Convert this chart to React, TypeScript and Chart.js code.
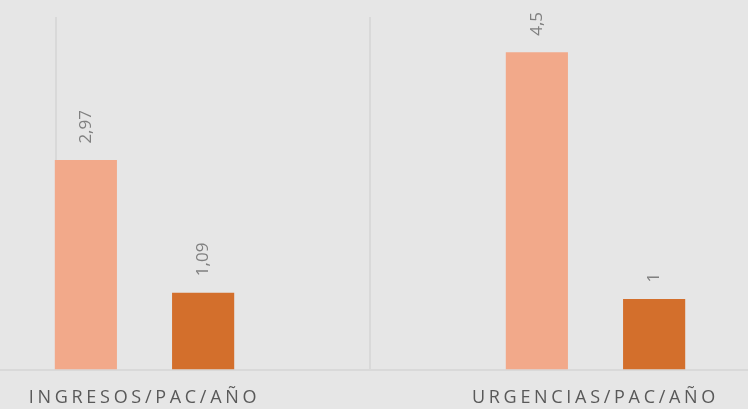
import { useEffect, useRef } from 'react';
import { Chart, registerables } from 'chart.js';

Chart.register(...registerables);

const categories = ['INGRESOS/PAC/AÑO', 'URGENCIAS/PAC/AÑO'];
const seriesA = [2.97, 4.5];
const seriesB = [1.09, 1];
const yMin = 0;
const yMax = 5;
// vertical divider lines, expressed in category-scale units
const dividerValues = [-0.196, 0.5];

const BG = '#e6e6e6';
const LIGHT = '#f2a98a';
const DARK = '#d36f2c';
const LINE = '#d9d9d9';
const FONT = "'Open Sans', 'DejaVu Sans', sans-serif";

const fmt = (v: number) => String(v).replace('.', ',');

const decor = {
  id: 'decor',
  beforeDraw(chart: any) {
    const { ctx, width, height } = chart;
    ctx.save();
    ctx.fillStyle = BG;
    ctx.fillRect(0, 0, width, height);
    ctx.restore();
    ctx.letterSpacing = '3.7px';
  },
  beforeDatasetsDraw(chart: any) {
    const { ctx, chartArea } = chart;
    ctx.letterSpacing = '0px';
    const xs = chart.scales.x;
    ctx.save();
    ctx.strokeStyle = LINE;
    ctx.lineWidth = 2;
    dividerValues.forEach((v) => {
      const px = Math.round(xs.getPixelForValue(v));
      ctx.beginPath();
      ctx.moveTo(px, chartArea.top);
      ctx.lineTo(px, chartArea.bottom);
      ctx.stroke();
    });
    ctx.restore();
  },
  afterDatasetsDraw(chart: any) {
    const { ctx } = chart;
    ctx.save();
    ctx.letterSpacing = '0px';
    ctx.fillStyle = '#808080';
    ctx.font = `17px ${FONT}`;
    ctx.textAlign = 'left';
    ctx.textBaseline = 'middle';
    chart.data.datasets.forEach((ds: any, di: number) => {
      const meta = chart.getDatasetMeta(di);
      meta.data.forEach((bar: any, i: number) => {
        ctx.save();
        ctx.translate(bar.x, bar.y - 16.5);
        ctx.rotate(-Math.PI / 2);
        ctx.fillText(fmt(ds.data[i]), 0, 0);
        ctx.restore();
      });
    });
    ctx.restore();
  },
};

export default function App() {
  const ref = useRef<HTMLCanvasElement>(null);
  useEffect(() => {
    const chart = new Chart(ref.current!, {
      type: 'bar',
      data: {
        labels: categories,
        datasets: [
          { data: seriesA, backgroundColor: LIGHT, borderWidth: 0, categoryPercentage: 0.52, barPercentage: 0.53 },
          { data: seriesB, backgroundColor: DARK, borderWidth: 0, categoryPercentage: 0.52, barPercentage: 0.53 },
        ],
      },
      options: {
        responsive: false,
        animation: false,
        layout: { padding: { top: 17, left: 0, right: 0, bottom: 0 } },
        plugins: { legend: { display: false }, tooltip: { enabled: false } },
        scales: {
          x: {
            grid: { display: false, drawTicks: false },
            border: { display: true, color: LINE, width: 2 },
            ticks: {
              color: '#595959',
              font: { family: FONT, size: 18 },
              padding: 18,
              maxRotation: 0,
              autoSkip: false,
            },
            afterFit: (s: any) => {
              s.height = 39.5;
            },
          },
          y: { display: false, min: yMin, max: yMax },
        },
      },
      plugins: [decor],
    } as any);
    return () => chart.destroy();
  }, []);
  return (
    <div style={{ position: 'fixed', left: 0, top: 0, width: 748, height: 409, overflow: 'hidden', background: BG }}>
      <canvas ref={ref} width={902} height={409} style={{ position: 'absolute', left: -81, top: 0, display: 'block' }} />
    </div>
  );
}
